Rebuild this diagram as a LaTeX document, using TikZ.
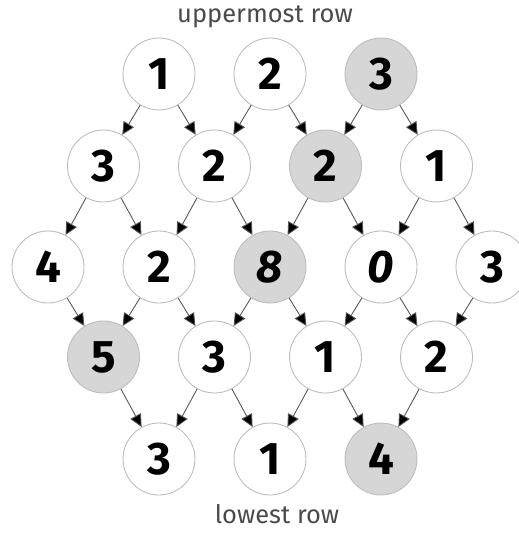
\documentclass[tikz,border=0pt]{standalone}
\usepackage{fontspec}
\setmainfont{Fira Sans}
\usetikzlibrary{arrows.meta}
\definecolor{ringgray}{HTML}{BDBDBD}
\definecolor{cellgray}{HTML}{D6D6D6}
\definecolor{linegray}{HTML}{555555}
\definecolor{labelgray}{HTML}{4A4A4A}

\begin{document}
\begin{tikzpicture}[
  x=0.02cm, y=-0.02cm,
  cell/.style={circle, draw=ringgray, fill=white, line width=0.5pt, minimum size=1.44cm,
    inner sep=0pt, font=\fontsize{26}{26}\selectfont\bfseries},
  marked/.style={cell, fill=cellgray},
  link/.style={draw=linegray, line width=0.5pt, -{Triangle[length=0.25cm, width=0.24cm, fill=black]}},
  caption/.style={font=\fontsize{14.5}{14.5}\selectfont, color=labelgray},
]
  \useasboundingbox (0,0) rectangle (519,533);

  % uppermost row
  \node[cell]   (a1) at (159, 74) {1};
  \node[cell]   (a2) at (270, 74) {2};
  \node[marked] (a3) at (381, 74) {3};

  \node[cell]   (b1) at (103.5, 166) {3};
  \node[cell]   (b2) at (214.5, 166) {2};
  \node[marked] (b3) at (325.5, 166) {2};
  \node[cell]   (b4) at (436.5, 166) {1};

  \node[cell]   (c1) at (48, 267) {4};
  \node[cell]   (c2) at (159, 267) {2};
  \node[marked] (c3) at (270, 267) {\itshape 8};
  \node[cell]   (c4) at (381, 267) {\itshape 0};
  \node[cell]   (c5) at (492, 267) {3};

  \node[marked] (d1) at (103.5, 357) {5};
  \node[cell]   (d2) at (214.5, 357) {3};
  \node[cell]   (d3) at (325.5, 357) {1};
  \node[cell]   (d4) at (436.5, 357) {2};

  % lowest row
  \node[cell]   (e1) at (159, 459) {3};
  \node[cell]   (e2) at (270, 459) {1};
  \node[marked] (e3) at (381, 459) {4};

  \draw[link] (a1) -- (b1);
  \draw[link] (a1) -- (b2);
  \draw[link] (a2) -- (b2);
  \draw[link] (a2) -- (b3);
  \draw[link] (a3) -- (b3);
  \draw[link] (a3) -- (b4);

  \draw[link] (b1) -- (c1);
  \draw[link] (b1) -- (c2);
  \draw[link] (b2) -- (c2);
  \draw[link] (b2) -- (c3);
  \draw[link] (b3) -- (c3);
  \draw[link] (b3) -- (c4);
  \draw[link] (b4) -- (c4);
  \draw[link] (b4) -- (c5);

  \draw[link] (c1) -- (d1);
  \draw[link] (c2) -- (d1);
  \draw[link] (c2) -- (d2);
  \draw[link] (c3) -- (d2);
  \draw[link] (c3) -- (d3);
  \draw[link] (c4) -- (d3);
  \draw[link] (c4) -- (d4);
  \draw[link] (c5) -- (d4);

  \draw[link] (d1) -- (e1);
  \draw[link] (d2) -- (e1);
  \draw[link] (d2) -- (e2);
  \draw[link] (d3) -- (e2);
  \draw[link] (d3) -- (e3);
  \draw[link] (d4) -- (e3);

  \node[caption] (top) at (265, 17) {uppermost row};
  \node[caption] (bottom) at (277, 514) {lowest row};

\end{tikzpicture}
\end{document}
